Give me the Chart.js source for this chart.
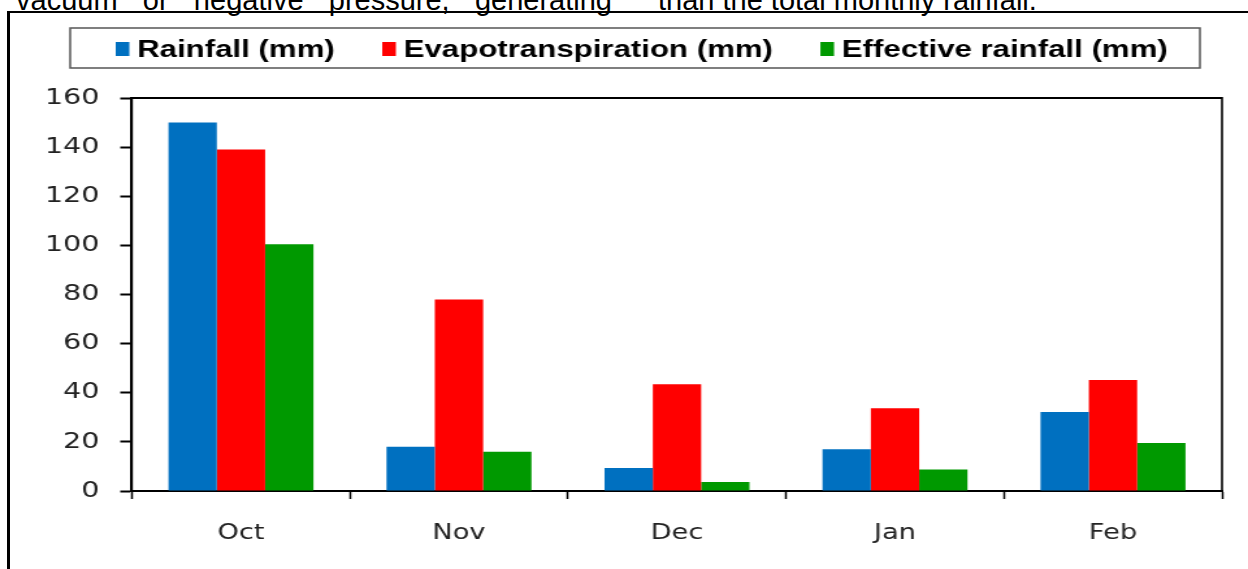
<!DOCTYPE html>
<html>
<head>
<meta charset="utf-8">
<title>Rainfall, evapotranspiration and effective rainfall</title>
<script src="https://cdn.jsdelivr.net/npm/chart.js@4.4.1/dist/chart.umd.min.js"></script>
<style>
    html, body {
        margin: 0;
        padding: 0;
        width: 1248px;
        height: 569px;
        overflow: hidden;
        background: #ffffff;
    }
    .page-text {
        position: absolute;
        top: -14px;
        font-family: "Liberation Sans", Arial, sans-serif;
        font-size: 29px;
        line-height: 29px;
        color: #000;
        white-space: nowrap;
    }
    .col-left {
        left: 16px;
        width: 596px;
        text-align: justify;
        text-align-last: justify;
        white-space: normal;
    }
    .col-right {
        left: 658px;
    }
    .outer-frame {
        position: absolute;
        left: 7px;
        top: 11px;
        width: 1300px;
        height: 600px;
        border-top: 2px solid #000;
        border-left: 3px solid #000;
    }
    /* chart is drawn narrow and stretched, like the pasted figure */
    .chart-wrap {
        position: absolute;
        left: 0;
        top: 0;
        width: 960px;
        height: 569px;
        transform: scaleX(1.3);
        transform-origin: 0 0;
    }
</style>
</head>
<body>
<div class="page-text col-left">vacuum or negative pressure, generating</div>
<div class="page-text col-right">than the total monthly rainfall.</div>
<div class="outer-frame"></div>
<div class="chart-wrap"><canvas id="rainChart"></canvas></div>

<script>
// Data
const months = ['Oct', 'Nov', 'Dec', 'Jan', 'Feb'];
const rainfall = [150, 18, 9.4, 17, 32.2];
const evapotranspiration = [139, 78, 43.5, 33.7, 45.2];
const effectiveRainfall = [100.5, 16, 3.7, 8.8, 19.5];
const seriesLabels = ['Rainfall (mm)', 'Evapotranspiration (mm)', 'Effective rainfall (mm)'];
const seriesColors = ['#0070C0', '#FF0000', '#009900'];

const yMin = 0;
const yMax = 160;
const yStep = 20;

// Boxed legend drawn at the top of the canvas
const boxedLegend = {
    id: 'boxedLegend',
    afterDraw(chart) {
        const ctx = chart.ctx;
        const boxLeft = 54;
        const boxRight = 923;
        const boxTop = 28;
        const boxBottom = 68;

        ctx.save();
        ctx.strokeStyle = '#555';
        ctx.lineWidth = 1.5;
        ctx.strokeRect(boxLeft, boxTop, boxRight - boxLeft, boxBottom - boxTop);

        ctx.font = 'bold 24px "Liberation Sans", Arial, sans-serif';
        ctx.textBaseline = 'alphabetic';
        ctx.fillStyle = '#000';

        let x = 89;
        const gap = 36.5;
        chart.data.datasets.forEach(function(ds) {
            ctx.fillStyle = ds.backgroundColor;
            ctx.fillRect(x, 42, 10.5, 14);
            x += 10.5 + 6;
            ctx.fillStyle = '#000';
            ctx.fillText(ds.label, x, 57);
            x += ctx.measureText(ds.label).width + gap;
        });
        ctx.restore();
    }
};

// Top and right edges of the plot frame
const plotFrame = {
    id: 'plotFrame',
    afterDatasetsDraw(chart) {
        const a = chart.chartArea;
        const ctx = chart.ctx;
        ctx.save();
        ctx.strokeStyle = '#000';
        ctx.lineWidth = 2;
        ctx.beginPath();
        ctx.moveTo(a.left, a.top);
        ctx.lineTo(a.right, a.top);
        ctx.stroke();
        ctx.lineWidth = 1.6;
        ctx.beginPath();
        ctx.moveTo(a.right, a.top - 1);
        ctx.lineTo(a.right, a.bottom);
        ctx.stroke();
        ctx.restore();
    }
};

function initializeRainChart() {
    const ctx = document.getElementById('rainChart');
    if (!ctx) return;

    const values = [rainfall, evapotranspiration, effectiveRainfall];

    new Chart(ctx, {
        type: 'bar',
        data: {
            labels: months,
            datasets: values.map(function(v, i) {
                return {
                    label: seriesLabels[i],
                    data: v,
                    backgroundColor: seriesColors[i],
                    borderWidth: 0,
                    categoryPercentage: 0.665,
                    barPercentage: 1.0
                };
            })
        },
        options: {
            responsive: true,
            maintainAspectRatio: false,
            animation: false,
            layout: {
                padding: { left: 0, right: 20, top: 98, bottom: 0 }
            },
            plugins: {
                legend: { display: false },
                tooltip: { enabled: false }
            },
            scales: {
                x: {
                    grid: {
                        offset: true,
                        drawOnChartArea: false,
                        drawTicks: true,
                        tickLength: 8,
                        tickWidth: 1.5,
                        tickColor: '#000'
                    },
                    border: { color: '#000', width: 2 },
                    ticks: {
                        color: '#222',
                        padding: 22,
                        font: { family: '"DejaVu Sans", Verdana, sans-serif', size: 21 }
                    },
                    afterFit: function(scale) {
                        scale.height = 78;
                    }
                },
                y: {
                    min: yMin,
                    max: yMax,
                    grid: {
                        drawOnChartArea: false,
                        drawTicks: true,
                        tickLength: 9,
                        tickWidth: 2,
                        tickColor: '#000'
                    },
                    border: { color: '#000', width: 2.2 },
                    ticks: {
                        stepSize: yStep,
                        color: '#222',
                        padding: 16,
                        font: { family: '"DejaVu Sans", Verdana, sans-serif', size: 22 }
                    },
                    afterFit: function(scale) {
                        scale.width = 101.5;
                    }
                }
            }
        },
        plugins: [boxedLegend, plotFrame]
    });
}

document.addEventListener('DOMContentLoaded', function() {
    initializeRainChart();
});
</script>
</body>
</html>
